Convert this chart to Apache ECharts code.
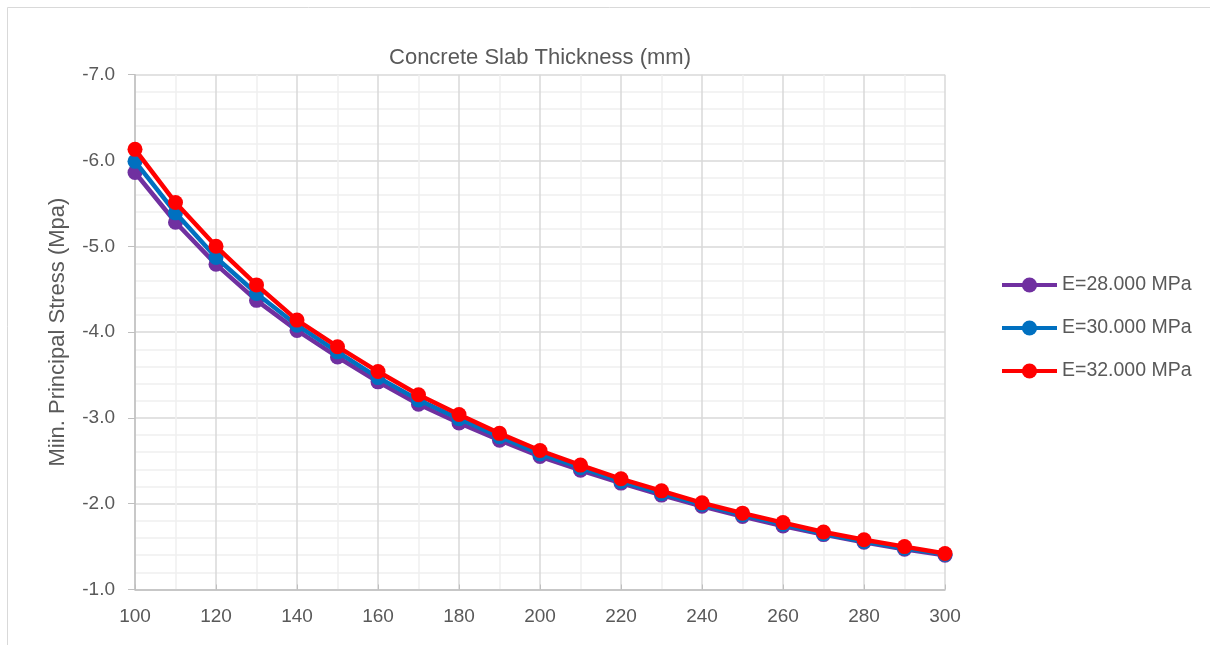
<!DOCTYPE html>
<html>
<head>
<meta charset="utf-8">
<script src="https://cdn.jsdelivr.net/npm/echarts@6/dist/echarts.min.js"></script>
<style>html,body{margin:0;padding:0;background:#fff}#c{width:1210px;height:645px}</style>
</head>
<body>
<div id="c"></div>
<script>
const thickness = [100,110,120,130,140,150,160,170,180,190,200,210,220,230,240,250,260,270,280,290,300];
const e28 = [-5.86,-5.28,-4.79,-4.37,-4.02,-3.71,-3.42,-3.16,-2.94,-2.74,-2.55,-2.39,-2.24,-2.10,-1.97,-1.85,-1.74,-1.64,-1.55,-1.47,-1.40];
const e30 = [-5.99,-5.39,-4.87,-4.45,-4.08,-3.77,-3.47,-3.21,-2.99,-2.78,-2.58,-2.42,-2.26,-2.12,-1.99,-1.87,-1.76,-1.65,-1.56,-1.48,-1.41];
const e32 = [-6.13,-5.51,-5.00,-4.55,-4.14,-3.83,-3.54,-3.27,-3.04,-2.82,-2.62,-2.45,-2.29,-2.15,-2.01,-1.89,-1.78,-1.67,-1.58,-1.50,-1.42];
const seriesNames = ['E=28.000 MPa','E=30.000 MPa','E=32.000 MPa'];
const seriesColors = ['#7030A0','#0070C0','#FF0000'];
const xTitle = 'Concrete Slab Thickness (mm)';
const yTitle = 'Miin. Principal Stress (Mpa)';

const FONT = '"Liberation Sans", Arial, sans-serif';
const TXT = '#595959';
const pairs = v => thickness.map((t,i)=>[t,v[i]]);
const chart = echarts.init(document.getElementById('c'), null, {renderer:'canvas'});
chart.setOption({
  animation:false,
  backgroundColor:'#fff',
  textStyle:{fontFamily:FONT},
  graphic:[{type:'rect',shape:{x:7.5,y:7.5,width:1220,height:660},style:{fill:'none',stroke:'#D9D9D9',lineWidth:1},silent:true,z:-1}],
  title:{text:xTitle,left:540,top:47,textAlign:'center',padding:0,
    textStyle:{fontFamily:FONT,fontSize:22,fontWeight:'normal',color:TXT}},
  grid:{left:135,right:265,top:74.7,bottom:55.5,containLabel:false},
  legend:{orient:'vertical',left:995,top:270,itemWidth:55,itemHeight:19,itemGap:23,
    lineStyle:{width:4},
    textStyle:{fontFamily:FONT,fontSize:19.5,color:TXT},data:seriesNames},
  xAxis:{type:'value',min:100,max:300,interval:20,
    axisLine:{show:true,lineStyle:{color:'#BFBFBF',width:1.5}},
    axisTick:{show:true,inside:true,length:5,lineStyle:{color:'#BFBFBF'}},
    axisLabel:{fontFamily:FONT,fontSize:19,color:TXT,margin:18},
    splitLine:{show:true,lineStyle:{color:'#D9D9D9',width:1.5}},
    minorTick:{show:false,splitNumber:2},
    minorSplitLine:{show:true,lineStyle:{color:'#F0F0F0',width:1.5}}},
  yAxis:{type:'value',inverse:true,min:-7,max:-1,interval:1,
    name:yTitle,nameLocation:'middle',nameGap:66,
    nameTextStyle:{fontFamily:FONT,fontSize:22,color:TXT},
    axisLine:{show:true,lineStyle:{color:'#BFBFBF',width:1.5}},
    axisTick:{show:true,inside:false,length:7,lineStyle:{color:'#BFBFBF'}},
    axisLabel:{fontFamily:FONT,fontSize:19,color:TXT,margin:20,formatter:v=>v.toFixed(1)},
    splitLine:{show:true,lineStyle:{color:'#D9D9D9',width:1.5}},
    minorTick:{show:false,splitNumber:5},
    minorSplitLine:{show:true,lineStyle:{color:'#F0F0F0',width:1.5}}},
  series:[e28,e30,e32].map((v,i)=>({
    name:seriesNames[i],type:'line',data:pairs(v),
    symbol:'circle',symbolSize:15,z:2+i,
    itemStyle:{color:seriesColors[i]},
    lineStyle:{color:seriesColors[i],width:4.5}
  }))
});
</script>
</body>
</html>
